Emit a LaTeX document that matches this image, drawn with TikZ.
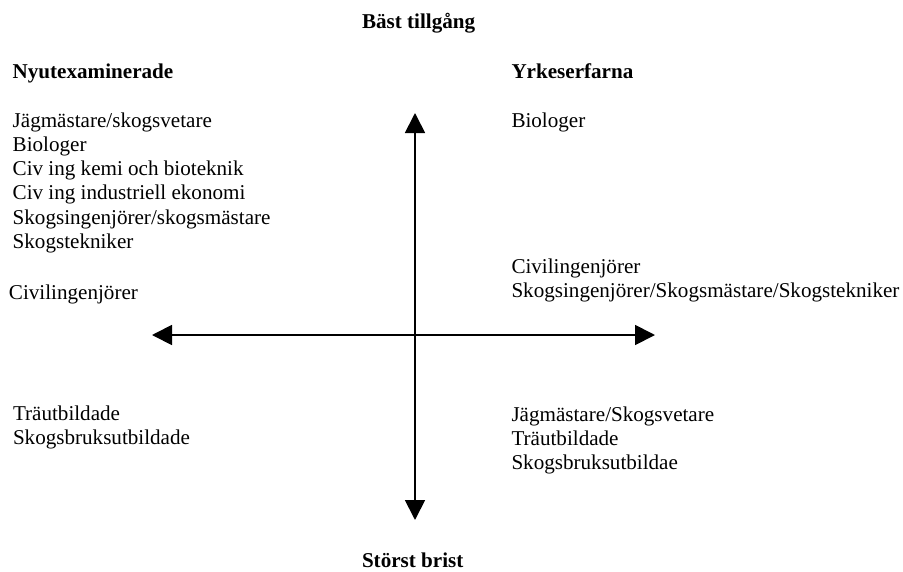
\documentclass[tikz,border=0pt]{standalone}
\usepackage{fontspec}
\setmainfont{Liberation Serif}
\usetikzlibrary{arrows.meta}
\newcommand{\stack}[1]{\begin{tabular}[t]{@{}l@{}}#1\end{tabular}}
\begin{document}
\begin{tikzpicture}[x=1pt,y=-1pt,
  lbl/.style={inner sep=0pt,outer sep=0pt,anchor=base west,font=\fontsize{21.1}{24.3}\selectfont},
  hd/.style={lbl,font=\fontsize{21.1}{24.3}\selectfont\bfseries},
  axis/.style={line width=1.8pt,{Triangle[length=20pt,width=20pt]}-{Triangle[length=20pt,width=20pt]}}]
\useasboundingbox (0,0) rectangle (903,571);
% axes
\coordinate (top) at (415,113);
\coordinate (bot) at (415,520);
\coordinate (lft) at (152,335);
\coordinate (rgt) at (655,335);
\draw[axis] (bot) -- (top);
\draw[axis] (lft) -- (rgt);
% headings
\node[hd] (best) at (362,28) {Bäst tillgång};
\node[hd] (worst) at (362,567) {Störst brist};
\node[hd] (nyut) at (12.7,78) {Nyutexaminerade};
\node[hd] (yrke) at (511.5,78) {Yrkeserfarna};
% upper left
\node[lbl] (ul) at (12.7,127) {\stack{Jägmästare/skogsvetare\\Biologer\\Civ ing kemi och bioteknik\\Civ ing industriell ekonomi\\Skogsingenjörer/skogsmästare\\Skogstekniker}};
\node[lbl] (ulc) at (9,299) {Civilingenjörer};
% upper right
\node[lbl] (ur) at (511.5,127) {Biologer};
\node[lbl] (urc) at (511.5,273) {\stack{Civilingenjörer\\Skogsingenjörer/Skogsmästare/Skogstekniker}};
% lower left
\node[lbl] (ll) at (13,420) {\stack{Träutbildade\\Skogsbruksutbildade}};
% lower right
\node[lbl] (lr) at (511.5,421) {\stack{Jägmästare/Skogsvetare\\Träutbildade\\Skogsbruksutbildae}};
\end{tikzpicture}
\end{document}
